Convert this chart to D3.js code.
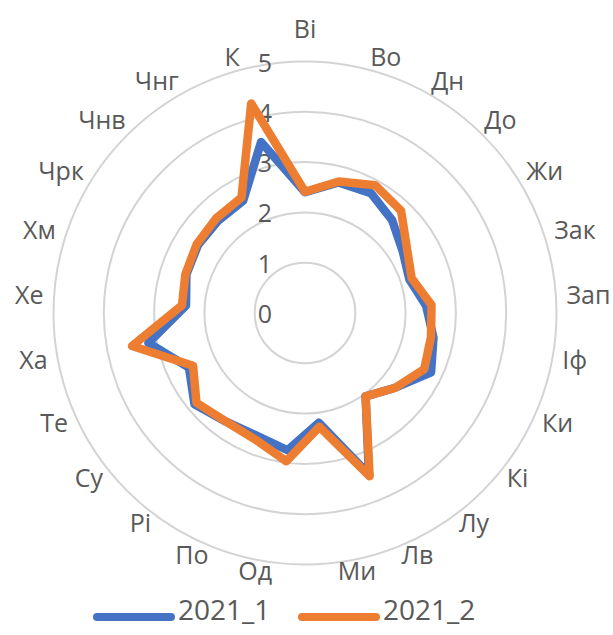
<!DOCTYPE html>
<html>
<head>
<meta charset="utf-8">
<script src="https://cdn.jsdelivr.net/npm/d3@7"></script>
<style>
  html, body { margin: 0; padding: 0; background: #ffffff; }
  svg { display: block; }
  text { font-family: "Open Sans", "Noto Sans", sans-serif; fill: #595959; }
</style>
</head>
<body>
<svg id="chart" width="613" height="635"></svg>
<script>
const categories = ["Ві","Во","Дн","До","Жи","Зак","Зап","Іф","Ки","Кі","Лу","Лв","Ми","Од","По","Рі","Су","Те","Ха","Хе","Хм","Чрк","Чнв","Чнг","К"];
const series2021_1 = [2.40,2.68,2.72,2.53,2.30,2.18,2.41,2.60,2.77,2.33,2.05,3.45,2.20,2.75,2.62,2.67,2.85,2.55,3.17,2.37,2.48,2.52,2.52,2.55,3.51];
const series2021_2 = [2.41,2.70,2.90,2.79,2.40,2.23,2.52,2.55,2.62,2.33,2.05,3.49,2.28,2.97,2.70,2.67,2.80,2.46,3.50,2.45,2.50,2.55,2.58,2.62,4.30];
const tickValues = [0,1,2,3,4,5];
const seriesNames = ["2021_1","2021_2"];
const seriesColors = ["#4472c4","#ed7d31"];

const svg = d3.select("#chart");
svg.append("rect").attr("width",613).attr("height",635).attr("fill","#fff");

const cx = 305, cy = 313, R = 251.5;
const n = categories.length;
const step = 2 * Math.PI / n;
const r = d3.scaleLinear().domain([0, 5]).range([0, R]);
const angle = i => i * step;

const g = svg.append("g").attr("transform", `translate(${cx},${cy})`);

// grid rings
g.selectAll("circle.ring")
  .data(tickValues.filter(v => v > 0))
  .enter().append("circle")
  .attr("class", "ring")
  .attr("r", v => r(v))
  .attr("fill", "none")
  .attr("stroke", "#d3d3d3")
  .attr("stroke-width", 2);

// value axis labels
g.selectAll("text.tick")
  .data(tickValues)
  .enter().append("text")
  .attr("class", "tick")
  .attr("x", -33)
  .attr("y", v => -r(v))
  .attr("text-anchor", "end")
  .attr("dominant-baseline", "central")
  .attr("font-size", 25)
  .text(v => v);

// series lines
const seriesLine = d3.lineRadial()
  .angle((d, i) => angle(i))
  .radius(d => r(d))
  .curve(d3.curveLinearClosed);
[series2021_1, series2021_2].forEach((vals, k) => {
  g.append("path")
    .attr("d", seriesLine(vals))
    .attr("fill", "none")
    .attr("stroke", seriesColors[k])
    .attr("stroke-width", 8.5)
    .attr("stroke-linejoin", "round");
});

// category labels
const rL = R + 10.5;
g.selectAll("text.cat")
  .data(categories)
  .enter().append("text")
  .attr("class", "cat")
  .attr("font-size", 25)
  .attr("dominant-baseline", "central")
  .each(function(d, i) {
    const a = angle(i), s = Math.sin(a), c = Math.cos(a);
    const t = d3.select(this);
    if (Math.abs(s) < 0.01) {
      t.attr("text-anchor", "middle").attr("x", 0).attr("y", -(rL + 23) * Math.sign(c));
    } else {
      t.attr("text-anchor", s > 0 ? "start" : "end")
       .attr("x", rL * s)
       .attr("y", -rL * c - 3);
    }
  })
  .text(d => d);

// legend
const legendX = [97, 302];
const lg = svg.selectAll("g.legend")
  .data(seriesNames)
  .enter().append("g")
  .attr("class", "legend")
  .attr("transform", (d, i) => `translate(${legendX[i]},617)`);
lg.append("line")
  .attr("x1", 0).attr("x2", 74)
  .attr("y1", 0).attr("y2", 0)
  .attr("stroke", (d, i) => seriesColors[i])
  .attr("stroke-width", 8)
  .attr("stroke-linecap", "round");
lg.append("text")
  .attr("x", 81)
  .attr("y", 3)
  .attr("font-size", 28)
  .text(d => d);
</script>
</body>
</html>
